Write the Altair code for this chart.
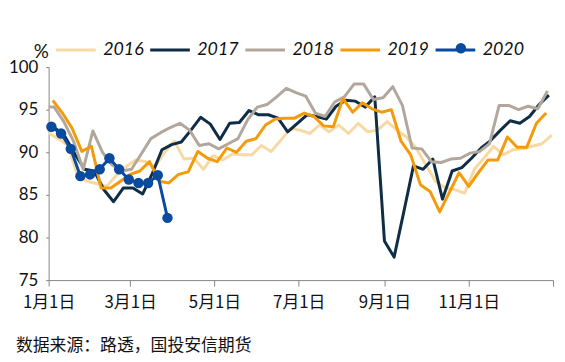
import json
import altair as alt
import pandas as pd

# ---- data (weekly, Friday readings, %) ----
years = ["2016", "2017", "2018", "2019", "2020"]
colors = ["#F9D9A3", "#0F2D45", "#B2A79C", "#F49B0C", "#0A4A9F"]
# day-of-year of the first weekly reading of each year
first_day = {"2016": 0, "2017": 5, "2018": 4, "2019": 3, "2020": 2}

v2016 = [92.3, 91.6, 90.8, 87.2, 86.6, 86.3, 86.0, 87.3, 88.3, 89.1,
         88.9, 88.3, 90.0, 91.3, 89.2, 89.3, 88.0, 89.6, 89.1, 89.8,
         89.7, 89.7, 90.8, 90.1, 91.4, 92.8, 92.6, 92.2, 93.2, 92.4,
         93.2, 92.2, 93.4, 92.4, 92.6, 93.6, 92.6, 91.8, 90.5, 88.5,
         86.6, 85.8, 85.6, 85.2, 88.0, 89.3, 90.7, 89.7, 90.3, 90.4,
         90.7, 91.0, 92.0]
v2017 = [92.8, 91.8, 89.8, 88.0, 87.8, 85.6, 84.2, 85.8, 85.8, 85.1,
         87.5, 90.3, 90.9, 91.2, 92.6, 94.1, 93.3, 91.5, 93.4, 93.5,
         94.9, 94.4, 94.4, 94.0, 92.4, 93.4, 94.4, 94.2, 93.9, 95.4,
         96.1, 96.0, 95.3, 96.5, 79.6, 77.7, 83.0, 88.4, 88.0, 89.2,
         84.5, 87.8, 88.2, 89.3, 90.5, 91.4, 92.6, 93.7, 93.4, 94.2,
         95.6, 96.7]
v2018_jan1 = 95.3
v2018 = [95.3, 93.6, 91.3, 88.0, 92.5, 90.0, 88.5, 87.8, 88.0, 89.8,
         91.6, 92.3, 92.9, 93.4, 92.6, 90.8, 91.0, 90.4, 91.0, 91.6,
         93.8, 95.3, 95.6, 96.5, 97.5, 97.0, 96.6, 94.6, 94.2, 95.9,
         96.5, 98.0, 98.0, 96.2, 96.4, 97.7, 95.5, 90.5, 90.4, 88.9,
         88.8, 89.2, 89.3, 89.9, 90.1, 91.0, 95.5, 95.5, 95.0, 95.4,
         95.1, 97.2]
v2019 = [96.1, 94.6, 92.8, 90.1, 90.7, 85.8, 85.8, 86.6, 87.4, 87.8,
         88.9, 86.6, 86.4, 87.4, 87.7, 90.1, 89.3, 88.9, 90.5, 90.0,
         91.3, 91.6, 93.2, 93.9, 94.0, 94.0, 94.6, 94.2, 93.1, 93.0,
         96.3, 94.7, 95.8, 95.1, 94.7, 95.0, 91.3, 89.7, 86.2, 85.4,
         83.0, 85.3, 87.6, 86.0, 87.6, 89.1, 89.1, 91.8, 90.6, 90.6,
         93.4, 94.6]
v2020 = [93.0, 92.2, 90.4, 87.2, 87.4, 88.0, 89.3, 88.0, 86.8, 86.4,
         86.4, 87.3, 82.3]

tick_days = [0, 59, 120, 181, 243, 304, 365]
tick_labels = ["1月1日", "3月1日", "5月1日", "7月1日", "9月1日", "11月1日", ""]
y_ticks = [75, 80, 85, 90, 95, 100]
source_text = "数据来源：路透，国投安信期货"

series = {"2016": v2016, "2017": v2017, "2018": v2018, "2019": v2019, "2020": v2020}
rows = [{"year": "2018", "day": 0, "value": v2018_jan1}]
for yr in years:
    for i, v in enumerate(series[yr]):
        rows.append({"year": yr, "day": first_day[yr] + 7 * i, "value": v})
df = pd.DataFrame(rows).sort_values(["year", "day"]).reset_index(drop=True)
df["marker_year"] = df["year"]  # separate field so the dot legend stays separate

label_expr = (json.dumps(tick_labels, ensure_ascii=False)
              + "[indexof(" + json.dumps(tick_days) + ", datum.value)]")

x_enc = alt.X("day:Q",
              scale=alt.Scale(domain=[0, 365], nice=False, zero=False),
              axis=alt.Axis(values=tick_days, labelExpr=label_expr, title=None,
                            grid=False, domainColor="#868686", tickColor="#868686",
                            tickSize=6, labelPadding=9, labelFont="Noto Sans CJK SC",
                            labelFontSize=17, labelColor="#111111", labelAngle=0,
                            labelFlush=False, labelOverlap=False))
y_enc = alt.Y("value:Q",
              scale=alt.Scale(domain=[75, 100], nice=False, zero=False),
              axis=alt.Axis(values=y_ticks, title="%", titleAngle=0, titleX=-8,
                            titleY=-10, titleAlign="center", titleBaseline="alphabetic",
                            titleFont="Lato", titleFontSize=19, titleFontWeight="normal",
                            titleColor="#111111",
                            grid=False, domainColor="#868686", tickColor="#868686",
                            tickSize=3, labelPadding=8, labelFont="Lato",
                            labelFontSize=17, labelColor="#111111",
                            labelFlush=False, labelOverlap=False))

# line legend (all years)
line_legend = alt.Legend(
    orient="none", legendX=6, legendY=-39, direction="horizontal", title=None,
    symbolType="stroke", symbolSize=1600, symbolStrokeWidth=3, labelFont="Lato",
    labelFontStyle="italic", labelFontSize=18, labelOffset=6, columnPadding=0,
    labelColor="#111111")
# one-entry legend that puts the marker dot on the 2020 legend line (no label text)
dot_legend = alt.Legend(
    orient="none", legendX=407, legendY=-28, title=None, symbolType="circle",
    symbolSize=110, symbolStrokeWidth=0, symbolOpacity=1, labelFontSize=18,
    labelExpr="''", labelColor="transparent")

lines = alt.Chart(df).mark_line(strokeWidth=3, strokeJoin="round").encode(
    x=x_enc, y=y_enc,
    color=alt.Color("year:N", scale=alt.Scale(domain=years, range=colors),
                    legend=line_legend),
    order=alt.Order("day:Q"),
)

points = alt.Chart(df).transform_filter(alt.datum.year == "2020").mark_point(
    filled=True, size=110, opacity=1, shape="circle").encode(
    x="day:Q", y="value:Q",
    fill=alt.Fill("marker_year:N", scale=alt.Scale(domain=["2020"], range=[colors[4]]),
                  legend=dot_legend),
)

chart = alt.layer(lines, points).properties(
    width=509, height=215,
    padding={"left": 41, "top": 58, "right": 4, "bottom": 76},
    autosize="none",
    title=alt.TitleParams(source_text, orient="bottom", anchor="start", frame="group",
                          dx=-33, offset=28, baseline="top", font="Noto Sans CJK SC",
                          fontSize=17, fontWeight="normal", color="#111111"),
).configure_view(stroke=None)

chart.save("out.html", embed_options={"renderer": "svg", "actions": False})
